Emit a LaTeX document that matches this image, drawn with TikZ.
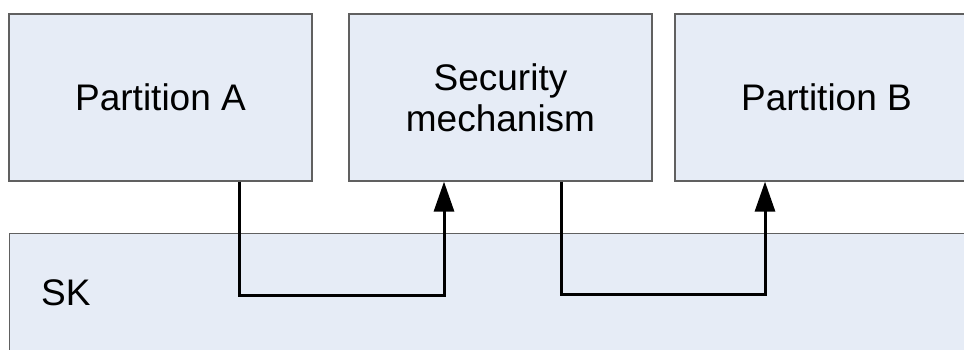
\documentclass[tikz,border=0pt]{standalone}
\usepackage{fontspec}
\setmainfont{Liberation Sans}
\usetikzlibrary{arrows.meta}
\definecolor{boxfill}{RGB}{230,236,246}
\definecolor{boxline}{RGB}{96,96,96}
\tikzset{
  box/.style={draw=boxline, line width=1.2pt, fill=boxfill, rectangle,
    minimum width=303pt, minimum height=167pt, inner sep=0pt,
    font=\fontsize{37}{41}\selectfont, align=center},
  conn/.style={draw=black, line width=3pt,
    -{Triangle[length=30pt,width=20pt]}},
}
\begin{document}
\begin{tikzpicture}[x=1pt,y=-1pt]
  \useasboundingbox (0,0) rectangle (964,349);
  \clip (0,0) rectangle (964,349);
  % partitions and the security mechanism between them
  \node[box] (pa) at (160.5,97.5) {Partition A};
  \node[box] (sm) at (500.5,97.5) {Security\\mechanism};
  \node[box] (pb) at (826.5,97.5) {Partition B};
  % separation kernel layer underneath
  \node[box, minimum width=1000pt, minimum height=200pt, anchor=north west] (sk) at (9,233) {};
  \node[font=\fontsize{37}{41}\selectfont, anchor=west, inner sep=0pt] (sklabel) at (41,293) {SK};
  % information flows routed through the kernel
  \draw[conn] ([xshift=78.5pt]pa.south) -- ++(0,114) -| ([xshift=-56.5pt]sm.south);
  \draw[conn] ([xshift=60.5pt]sm.south) -- ++(0,113) -| ([xshift=-61.5pt]pb.south);
\end{tikzpicture}
\end{document}
